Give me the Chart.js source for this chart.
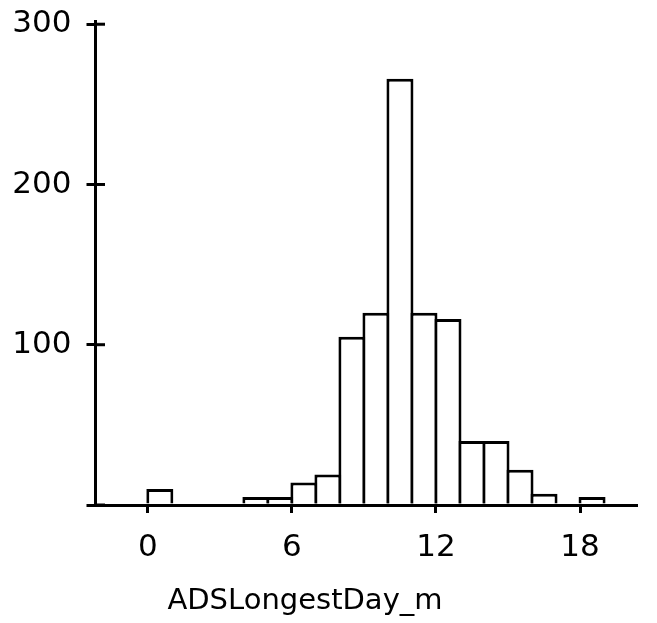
<!DOCTYPE html>
<html>
<head>
<meta charset="utf-8">
<script src="https://cdn.jsdelivr.net/npm/chart.js@4"></script>
<style>
  html, body { margin: 0; padding: 0; background: #fff; }
  #wrap { width: 657px; height: 623px; }
</style>
</head>
<body>
<div id="wrap"><canvas id="histChart" width="657" height="623"></canvas></div>
<script>
// histogram bins (left edge, width 1) and counts
const binStarts = [0, 1, 2, 3, 4, 5, 6, 7, 8, 9, 10, 11, 12, 13, 14, 15, 16, 17, 18, 19];
const counts    = [10, 0, 0, 0, 5, 5, 14, 19, 105, 120, 266, 120, 116, 40, 40, 22, 7, 0, 5, 0];
const xTicks = [0, 6, 12, 18];
const yTicks = [0, 100, 200, 300];
const yTickLabels = ['', '100', '200', '300'];
const xTitle = 'ADSLongestDay_m';

const FONT = 'DejaVu Sans';

const points = binStarts.map((b, i) => ({ x: b + 0.5, y: counts[i] }));

// inner half of the y ticks + axis title below the x labels
const extras = {
  id: 'extras',
  afterDraw(chart) {
    const c = chart.ctx;
    const y = chart.scales.y;
    const area = chart.chartArea;
    c.save();
    c.strokeStyle = '#000';
    c.lineWidth = 3;
    yTicks.forEach(v => {
      const py = y.getPixelForValue(v);
      c.beginPath();
      c.moveTo(area.left, py);
      c.lineTo(area.left + 10, py);
      c.stroke();
    });
    c.fillStyle = '#000';
    c.font = '29px "' + FONT + '"';
    c.textAlign = 'center';
    c.textBaseline = 'alphabetic';
    c.fillText(xTitle, 305, 609);
    c.restore();
  }
};

const ctx = document.getElementById('histChart').getContext('2d');

new Chart(ctx, {
  type: 'bar',
  data: {
    datasets: [{
      data: points,
      backgroundColor: '#fff',
      borderColor: '#000',
      borderWidth: 3,
      barPercentage: 1.125,
      categoryPercentage: 1
    }]
  },
  options: {
    responsive: false,
    animation: false,
    layout: { padding: { left: 0, top: 21, right: 21, bottom: 0 } },
    plugins: {
      legend: { display: false },
      tooltip: { enabled: false }
    },
    scales: {
      x: {
        type: 'linear',
        min: -2.2,
        max: 20.33,
        offset: false,
        z: 1,
        afterFit(scale) {
          scale.height = 118;
          scale.paddingLeft = 0;
          scale.paddingRight = 0;
        },
        afterBuildTicks(scale) { scale.ticks = xTicks.map(v => ({ value: v })); },
        border: { display: true, color: '#000', width: 3 },
        grid: {
          display: true,
          offset: false,
          drawOnChartArea: false,
          drawTicks: true,
          tickLength: 8,
          color: '#000',
          lineWidth: 3
        },
        ticks: {
          color: '#000',
          padding: 16,
          maxRotation: 0,
          font: { family: FONT, size: 31 }
        }
      },
      y: {
        min: 0,
        max: 302,
        z: 1,
        afterFit(scale) {
          scale.width = 95;
          scale.paddingTop = 0;
          scale.paddingBottom = 0;
        },
        afterBuildTicks(scale) { scale.ticks = yTicks.map(v => ({ value: v })); },
        border: { display: true, color: '#000', width: 3 },
        grid: {
          display: true,
          drawOnChartArea: false,
          drawTicks: true,
          tickLength: 8.5,
          color: '#000',
          lineWidth: 3
        },
        ticks: {
          color: '#000',
          padding: 15,
          font: { family: FONT, size: 31 },
          callback: (v) => yTickLabels[yTicks.indexOf(v)]
        }
      }
    }
  },
  plugins: [extras]
});
</script>
</body>
</html>
